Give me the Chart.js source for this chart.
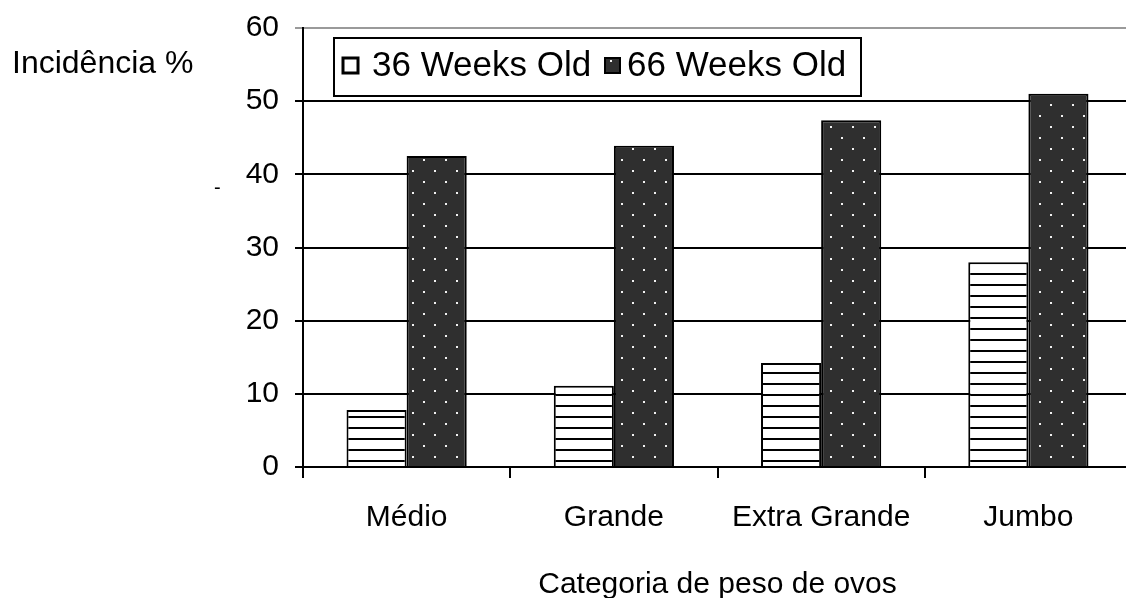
<!DOCTYPE html>
<html>
<head>
<meta charset="utf-8">
<script src="https://cdn.jsdelivr.net/npm/chart.js@4/dist/chart.umd.min.js"></script>
<style>
  html, body { margin: 0; padding: 0; background: #fff; overflow: hidden; }
  #wrap { position: relative; width: 1134px; height: 598px; }
</style>
</head>
<body>
<div id="wrap"><canvas id="c"></canvas></div>
<script>
// Egg weight categories and incidence (%) per hen age
const categories = ['Médio', 'Grande', 'Extra Grande', 'Jumbo'];
const weeks36 = [7.8, 11.1, 14.2, 28.0];
const weeks66 = [42.5, 43.9, 47.4, 51.0];
const seriesNames = ['36 Weeks Old', '66 Weeks Old'];
const yTicks = [0, 10, 20, 30, 40, 50, 60];
const yTitle = 'Incidência %';
const xTitle = 'Categoria de peso de ovos';

const FONT = '"Liberation Sans", Arial, sans-serif';
const canvas = document.getElementById('c');
const ctx = canvas.getContext('2d');

// Fill patterns: white with horizontal black lines, and dark grey with white dots
function stripePattern() {
  const t = document.createElement('canvas');
  t.width = 8; t.height = 11;
  const g = t.getContext('2d');
  g.fillStyle = '#fff'; g.fillRect(0, 0, 8, 11);
  g.fillStyle = '#000'; g.fillRect(0, 9, 8, 2);
  return ctx.createPattern(t, 'repeat');
}
function dotPattern() {
  const t = document.createElement('canvas');
  t.width = 22; t.height = 22;
  const g = t.getContext('2d');
  g.fillStyle = '#2f2f2f'; g.fillRect(0, 0, 22, 22);
  g.fillStyle = '#f2f2f2';
  g.fillRect(5, 5, 2, 2);
  g.fillRect(16, 16, 2, 2);
  return ctx.createPattern(t, 'repeat');
}
const stripes = stripePattern();
const dots = dotPattern();

// Boxed legend and free-standing labels
const annotations = {
  id: 'annotations',
  afterDraw(chart) {
    const c = chart.ctx;
    c.save();
    // y-axis caption
    c.fillStyle = '#000';
    c.font = '32px ' + FONT;
    c.textBaseline = 'alphabetic';
    c.textAlign = 'left';
    c.fillText(yTitle, 12, 73);
    c.font = '20px ' + FONT;
    c.fillText('-', 214, 194);

    // legend box
    c.fillStyle = '#fff';
    c.fillRect(334, 38, 527, 58);
    c.strokeStyle = '#000';
    c.lineWidth = 2;
    c.strokeRect(334, 38, 527, 58);

    const entries = [
      { x: 343, fill: '#fff', text: seriesNames[0], tx: 372 },
      { x: 605, fill: dots, text: seriesNames[1], tx: 627 }
    ];
    c.font = '35px ' + FONT;
    c.textBaseline = 'middle';
    entries.forEach(e => {
      c.fillStyle = e.fill;
      c.fillRect(e.x, 58, 15, 15);
      c.lineWidth = e.fill === '#fff' ? 3 : 2;
      c.strokeStyle = '#000';
      c.strokeRect(e.x, 58, 15, 15);
      c.fillStyle = '#000';
      c.fillText(e.text, e.tx, 66);
    });
    c.restore();
  }
};

new Chart(canvas, {
  type: 'bar',
  data: {
    labels: categories,
    datasets: [
      { label: seriesNames[0], data: weeks36, backgroundColor: stripes, borderColor: '#000', borderWidth: 2 },
      { label: seriesNames[1], data: weeks66, backgroundColor: dots, borderColor: '#000', borderWidth: 2 }
    ]
  },
  options: {
    responsive: true,
    maintainAspectRatio: false,
    animation: false,
    layout: { padding: { top: 28, right: 2, left: 0, bottom: 0 } },
    datasets: { bar: { categoryPercentage: 0.58, barPercentage: 1.0 } },
    plugins: { legend: { display: false }, tooltip: { enabled: false } },
    scales: {
      x: {
        offset: true,
        grid: { drawOnChartArea: false, drawTicks: true, tickLength: 11, color: '#000', lineWidth: 2, offset: true },
        border: { display: true, color: '#000', width: 2 },
        ticks: { color: '#000', font: { family: FONT, size: 30 }, padding: 22, maxRotation: 0, autoSkip: false },
        title: { display: true, text: xTitle, color: '#000', font: { family: FONT, size: 30 }, padding: { top: 0, bottom: -5 } },
        afterFit(s) { s.height = 131; }
      },
      y: {
        min: yTicks[0],
        max: yTicks[yTicks.length - 1],
        afterBuildTicks(s) { s.ticks = yTicks.map(v => ({ value: v })); },
        grid: {
          color: c => (c.tick && c.tick.value === 60 ? '#9a9a9a' : '#000'),
          lineWidth: 2,
          tickLength: 8
        },
        border: { display: true, color: '#000', width: 2 },
        ticks: { color: '#000', font: { family: FONT, size: 30 }, padding: 16 },
        afterFit(s) { s.width = 303; s.paddingTop = 0; s.paddingBottom = 0; }
      }
    }
  },
  plugins: [annotations]
});
</script>
</body>
</html>
